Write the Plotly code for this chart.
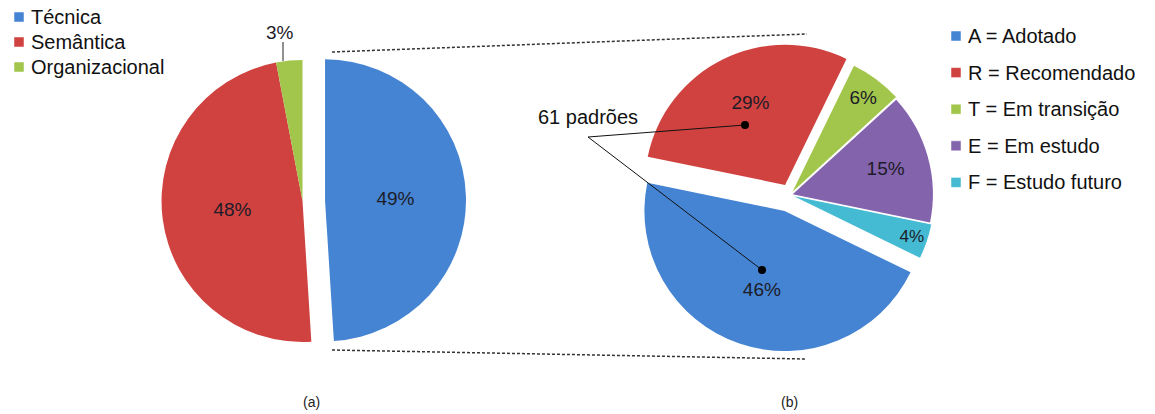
import plotly.graph_objects as go

W, H = 1155, 414

# ---- data ----
a_labels = ["Técnica", "Semântica", "Organizacional"]
a_values = [49, 48, 3]
b_labels = ["A = Adotado", "R = Recomendado", "T = Em transição", "E = Em estudo", "F = Estudo futuro"]
b_values = [46, 29, 6, 15, 4]
note_text = "61 padrões"
panel_labels = ["(a)", "(b)"]

# ---- style ----
FONT = "Liberation Sans, Arial, sans-serif"
TXT = "#1c1c28"
colors_a = ["#4584d3", "#d0423f", "#a2c64b"]
colors_b = ["#4584d3", "#d0423f", "#a2c64b", "#8463ad", "#45bbd3"]


def fx(px):
    return px / W


def fy(py):
    return 1 - py / H


fig = go.Figure()

fig.add_trace(go.Pie(
    labels=a_labels, values=a_values, sort=False, direction="clockwise", rotation=0,
    pull=[0.16, 0, 0],
    marker=dict(colors=colors_a, line=dict(width=0)),
    texttemplate="%{percent:.0%}", textposition=["inside", "inside", "none"],
    insidetextorientation="horizontal",
    textfont=dict(size=19, color=TXT, family=FONT),
    insidetextfont=dict(size=19, color=TXT, family=FONT),
    domain=dict(x=[fx(139), fx(466)], y=[fy(364.5), fy(37.5)]),
    showlegend=False,
))

pct = "%{percent:.0%}"
b_templates = ["\u00a0<br>" + pct, pct + "<br>\u00a0", pct, pct, pct]

fig.add_trace(go.Pie(
    labels=b_labels, values=b_values, sort=False, direction="clockwise", rotation=116,
    pull=[0.12, 0.08, 0.03, 0.02, 0.03],
    marker=dict(colors=colors_b, line=dict(width=0)),
    texttemplate=b_templates,
    textposition="inside",
    insidetextorientation="horizontal",
    textfont=dict(size=19, color=TXT, family=FONT),
    insidetextfont=dict(size=19, color=TXT, family=FONT),
    domain=dict(x=[fx(633), fx(947)], y=[fy(352), fy(38)]),
    showlegend=False,
))

small_pct = round(a_values[2] / sum(a_values) * 100)

shapes = [
    # zoom connector dashed lines
    dict(type="line", xref="paper", yref="paper", x0=fx(332), y0=fy(52), x1=fx(807), y1=fy(34),
         line=dict(color="#333333", width=1.5, dash="3px,2px")),
    dict(type="line", xref="paper", yref="paper", x0=fx(332), y0=fy(350), x1=fx(805), y1=fy(359),
         line=dict(color="#333333", width=1.5, dash="3px,2px")),
    # leader for small slice
    dict(type="line", xref="paper", yref="paper", x0=fx(283), y0=fy(42), x1=fx(283), y1=fy(61),
         line=dict(color="#222222", width=1)),
    # callout lines
    dict(type="line", xref="paper", yref="paper", x0=fx(588), y0=fy(137), x1=fx(745), y1=fy(125),
         line=dict(color="#111111", width=1)),
    dict(type="line", xref="paper", yref="paper", x0=fx(588), y0=fy(137), x1=fx(762), y1=fy(270),
         line=dict(color="#111111", width=1)),
    dict(type="circle", xref="paper", yref="paper", x0=fx(741), y0=fy(121), x1=fx(749), y1=fy(129),
         fillcolor="#000000", line=dict(width=0)),
    dict(type="circle", xref="paper", yref="paper", x0=fx(758), y0=fy(266), x1=fx(766), y1=fy(274),
         fillcolor="#000000", line=dict(width=0)),
]

annotations = [
    dict(text=f"{small_pct}%", x=fx(280), y=fy(32), xref="paper", yref="paper", showarrow=False,
         font=dict(size=19, color=TXT, family=FONT), xanchor="center", yanchor="middle"),
    dict(text=note_text, x=fx(588), y=fy(117), xref="paper", yref="paper", showarrow=False,
         font=dict(size=20, color="#111111", family=FONT), xanchor="center", yanchor="middle"),
    dict(text=panel_labels[0], x=fx(311), y=fy(402), xref="paper", yref="paper", showarrow=False,
         font=dict(size=14, color="#222222", family=FONT), xanchor="center", yanchor="middle"),
    dict(text=panel_labels[1], x=fx(789), y=fy(402), xref="paper", yref="paper", showarrow=False,
         font=dict(size=14, color="#222222", family=FONT), xanchor="center", yanchor="middle"),
]


# ---- legends (square swatch + label) ----
def add_legend(labels, colors, sq_x, text_x, y0, step):
    for i, (lab, col) in enumerate(zip(labels, colors)):
        yc = y0 + i * step
        shapes.append(dict(type="rect", xref="paper", yref="paper",
                           x0=fx(sq_x), x1=fx(sq_x + 10), y0=fy(yc - 5), y1=fy(yc + 5),
                           fillcolor=col, line=dict(color="#ffffff", width=0.5)))
        annotations.append(dict(text=lab, x=fx(text_x), y=fy(yc), xref="paper", yref="paper",
                                showarrow=False, xanchor="left", yanchor="middle",
                                font=dict(size=20, color="#111111", family=FONT)))


add_legend(a_labels, colors_a, 14, 29, 17, 25)
add_legend(b_labels, colors_b, 951, 966, 36, 36.6)

fig.update_layout(
    width=W, height=H,
    margin=dict(l=0, r=0, t=0, b=0, autoexpand=False),
    paper_bgcolor="white", plot_bgcolor="white",
    showlegend=False,
    shapes=shapes,
    annotations=annotations,
)

fig.write_html("out.html")
